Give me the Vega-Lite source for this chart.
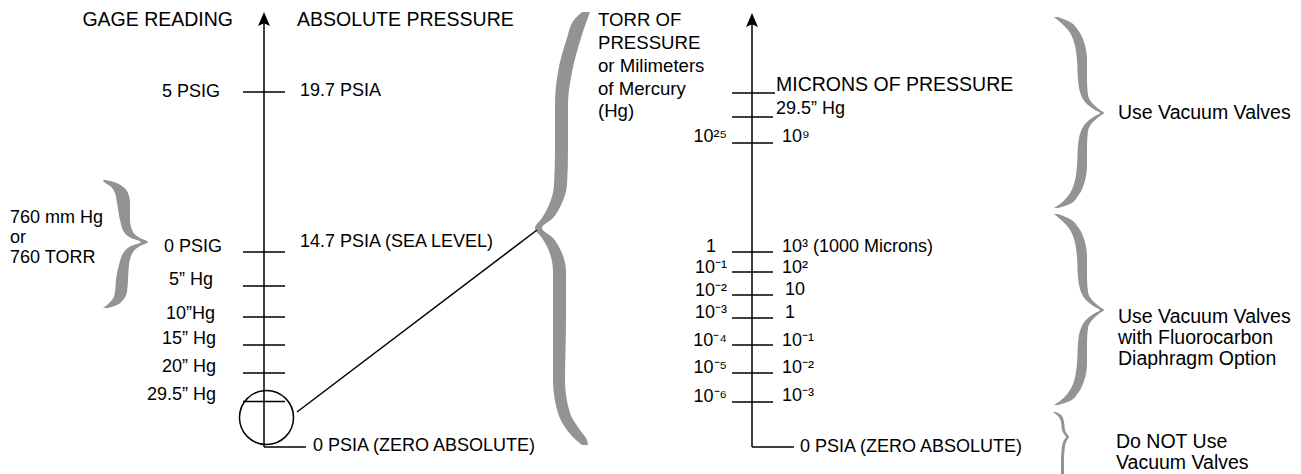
{
  "$schema": "https://vega.github.io/schema/vega-lite/v6.json",
  "width": 1301,
  "height": 474,
  "autosize": {"type": "fit", "contains": "padding"},
  "padding": 0,
  "background": "white",
  "config": {"view": {"stroke": null}},
  "datasets": {
    "rules": [
      {"x": 264, "y": 22, "x2": 264, "y2": 447},
      {"x": 243, "y": 92, "x2": 285, "y2": 92},
      {"x": 243, "y": 252, "x2": 285, "y2": 252},
      {"x": 243, "y": 286, "x2": 285, "y2": 286},
      {"x": 243, "y": 317, "x2": 285, "y2": 317},
      {"x": 243, "y": 345, "x2": 285, "y2": 345},
      {"x": 243, "y": 373, "x2": 285, "y2": 373},
      {"x": 243, "y": 401.5, "x2": 285, "y2": 401.5},
      {"x": 264, "y": 447, "x2": 306, "y2": 447},
      {"x": 297, "y": 412, "x2": 537, "y2": 230},
      {"x": 752, "y": 22, "x2": 752, "y2": 447},
      {"x": 732, "y": 93, "x2": 775, "y2": 93},
      {"x": 732, "y": 117, "x2": 773, "y2": 117},
      {"x": 732, "y": 143, "x2": 773, "y2": 143},
      {"x": 732, "y": 252, "x2": 773, "y2": 252},
      {"x": 732, "y": 272, "x2": 773, "y2": 272},
      {"x": 732, "y": 295, "x2": 773, "y2": 295},
      {"x": 732, "y": 318, "x2": 773, "y2": 318},
      {"x": 732, "y": 345, "x2": 773, "y2": 345},
      {"x": 732, "y": 373, "x2": 773, "y2": 373},
      {"x": 732, "y": 402, "x2": 773, "y2": 402},
      {"x": 752, "y": 447, "x2": 794, "y2": 447}
    ],
    "arrows": [
      {"x": 264, "y": 19},
      {"x": 752, "y": 20}
    ],
    "circles": [
      {"x": 266.5, "y": 417.5}
    ],
    "braces": [
      {"b": "left", "y": 180, "xl": 103, "xr": 106},
      {"b": "left", "y": 182, "xl": 104, "xr": 114},
      {"b": "left", "y": 186, "xl": 110, "xr": 122},
      {"b": "left", "y": 193, "xl": 115, "xr": 128},
      {"b": "left", "y": 203, "xl": 117, "xr": 130},
      {"b": "left", "y": 220, "xl": 120, "xr": 130},
      {"b": "left", "y": 232, "xl": 124, "xr": 133},
      {"b": "left", "y": 238, "xl": 131, "xr": 140},
      {"b": "left", "y": 242, "xl": 141, "xr": 148},
      {"b": "left", "y": 246, "xl": 131, "xr": 140},
      {"b": "left", "y": 252, "xl": 124, "xr": 133},
      {"b": "left", "y": 265, "xl": 119, "xr": 129},
      {"b": "left", "y": 280, "xl": 116, "xr": 128},
      {"b": "left", "y": 292, "xl": 115, "xr": 127},
      {"b": "left", "y": 300, "xl": 112, "xr": 123},
      {"b": "left", "y": 305, "xl": 107, "xr": 117},
      {"b": "left", "y": 308, "xl": 103, "xr": 108},

      {"b": "big", "y": 12, "xl": 582, "xr": 590},
      {"b": "big", "y": 20, "xl": 574, "xr": 587},
      {"b": "big", "y": 38, "xl": 567, "xr": 581},
      {"b": "big", "y": 72, "xl": 558, "xr": 572},
      {"b": "big", "y": 105, "xl": 555, "xr": 568},
      {"b": "big", "y": 150, "xl": 555, "xr": 568},
      {"b": "big", "y": 185, "xl": 554, "xr": 567},
      {"b": "big", "y": 205, "xl": 549, "xr": 561},
      {"b": "big", "y": 218, "xl": 542, "xr": 553},
      {"b": "big", "y": 228, "xl": 535, "xr": 542},
      {"b": "big", "y": 238, "xl": 542, "xr": 553},
      {"b": "big", "y": 251, "xl": 549, "xr": 561},
      {"b": "big", "y": 272, "xl": 553, "xr": 566},
      {"b": "big", "y": 320, "xl": 553, "xr": 566},
      {"b": "big", "y": 380, "xl": 553, "xr": 565},
      {"b": "big", "y": 413, "xl": 558, "xr": 570},
      {"b": "big", "y": 430, "xl": 567, "xr": 580},
      {"b": "big", "y": 440, "xl": 576, "xr": 587},
      {"b": "big", "y": 445, "xl": 582, "xr": 588},

      {"b": "top", "y": 17, "xl": 1054, "xr": 1058},
      {"b": "top", "y": 22, "xl": 1060, "xr": 1070},
      {"b": "top", "y": 30, "xl": 1068, "xr": 1078},
      {"b": "top", "y": 42, "xl": 1074, "xr": 1084},
      {"b": "top", "y": 60, "xl": 1077, "xr": 1087},
      {"b": "top", "y": 80, "xl": 1078, "xr": 1087},
      {"b": "top", "y": 95, "xl": 1081, "xr": 1088},
      {"b": "top", "y": 105, "xl": 1088, "xr": 1094},
      {"b": "top", "y": 110, "xl": 1095, "xr": 1100},
      {"b": "top", "y": 113, "xl": 1100, "xr": 1104},
      {"b": "top", "y": 116, "xl": 1095, "xr": 1100},
      {"b": "top", "y": 121, "xl": 1088, "xr": 1094},
      {"b": "top", "y": 131, "xl": 1081, "xr": 1088},
      {"b": "top", "y": 146, "xl": 1078, "xr": 1087},
      {"b": "top", "y": 166, "xl": 1077, "xr": 1087},
      {"b": "top", "y": 184, "xl": 1074, "xr": 1084},
      {"b": "top", "y": 196, "xl": 1068, "xr": 1078},
      {"b": "top", "y": 204, "xl": 1060, "xr": 1070},
      {"b": "top", "y": 208, "xl": 1054, "xr": 1058},

      {"b": "mid", "y": 214, "xl": 1054, "xr": 1058},
      {"b": "mid", "y": 219, "xl": 1060, "xr": 1070},
      {"b": "mid", "y": 227, "xl": 1068, "xr": 1078},
      {"b": "mid", "y": 239, "xl": 1074, "xr": 1084},
      {"b": "mid", "y": 257, "xl": 1077, "xr": 1087},
      {"b": "mid", "y": 277, "xl": 1078, "xr": 1087},
      {"b": "mid", "y": 292, "xl": 1081, "xr": 1088},
      {"b": "mid", "y": 302, "xl": 1088, "xr": 1094},
      {"b": "mid", "y": 307, "xl": 1095, "xr": 1100},
      {"b": "mid", "y": 310, "xl": 1100, "xr": 1104},
      {"b": "mid", "y": 313, "xl": 1095, "xr": 1100},
      {"b": "mid", "y": 318, "xl": 1088, "xr": 1094},
      {"b": "mid", "y": 328, "xl": 1081, "xr": 1088},
      {"b": "mid", "y": 343, "xl": 1078, "xr": 1087},
      {"b": "mid", "y": 363, "xl": 1077, "xr": 1087},
      {"b": "mid", "y": 381, "xl": 1074, "xr": 1084},
      {"b": "mid", "y": 393, "xl": 1068, "xr": 1078},
      {"b": "mid", "y": 401, "xl": 1060, "xr": 1070},
      {"b": "mid", "y": 405, "xl": 1054, "xr": 1058},

      {"b": "small", "y": 412, "xl": 1053, "xr": 1056},
      {"b": "small", "y": 416, "xl": 1058, "xr": 1062},
      {"b": "small", "y": 422, "xl": 1061, "xr": 1064},
      {"b": "small", "y": 430, "xl": 1062, "xr": 1065},
      {"b": "small", "y": 434, "xl": 1064, "xr": 1067},
      {"b": "small", "y": 437, "xl": 1066, "xr": 1069},
      {"b": "small", "y": 440, "xl": 1064, "xr": 1067},
      {"b": "small", "y": 446, "xl": 1062, "xr": 1065},
      {"b": "small", "y": 460, "xl": 1061, "xr": 1064},
      {"b": "small", "y": 474, "xl": 1061, "xr": 1064}
    ],
    "textLeft": [
      {"t": "19.7 PSIA", "x": 300, "y": 91},
      {"t": "14.7 PSIA (SEA LEVEL)", "x": 300, "y": 242},
      {"t": "0 PSIA (ZERO ABSOLUTE)", "x": 313, "y": 446},
      {"t": "760 mm Hg", "x": 10, "y": 218},
      {"t": "or", "x": 10, "y": 238},
      {"t": "760 TORR", "x": 10, "y": 258},
      {"t": "29.5” Hg", "x": 776, "y": 109},
      {"t": "10⁹", "x": 782, "y": 137},
      {"t": "10³ (1000 Microns)", "x": 782, "y": 247},
      {"t": "10²", "x": 782, "y": 268},
      {"t": "10", "x": 785, "y": 290},
      {"t": "1", "x": 785, "y": 313},
      {"t": "10⁻¹", "x": 782, "y": 341},
      {"t": "10⁻²", "x": 782, "y": 368},
      {"t": "10⁻³", "x": 782, "y": 396},
      {"t": "0 PSIA (ZERO ABSOLUTE)", "x": 800, "y": 447}
    ],
    "textLeftMid": [
      {"t": "TORR OF", "x": 598, "y": 20},
      {"t": "PRESSURE", "x": 598, "y": 43},
      {"t": "or Milimeters", "x": 598, "y": 66},
      {"t": "of Mercury", "x": 598, "y": 89},
      {"t": "(Hg)", "x": 598, "y": 111}
    ],
    "textLeftLarge": [
      {"t": "ABSOLUTE PRESSURE", "x": 297, "y": 20},
      {"t": "MICRONS OF PRESSURE", "x": 776, "y": 85},
      {"t": "Use Vacuum Valves", "x": 1118, "y": 113},
      {"t": "Use Vacuum Valves", "x": 1118, "y": 317},
      {"t": "with Fluorocarbon", "x": 1118, "y": 338},
      {"t": "Diaphragm Option", "x": 1118, "y": 359},
      {"t": "Do NOT Use", "x": 1116, "y": 442},
      {"t": "Vacuum Valves", "x": 1116, "y": 463}
    ],
    "textRight": [
      {"t": "5 PSIG", "x": 220, "y": 92},
      {"t": "0 PSIG", "x": 222, "y": 247},
      {"t": "5” Hg", "x": 213, "y": 280},
      {"t": "10”Hg", "x": 215, "y": 314},
      {"t": "15”  Hg", "x": 216, "y": 339},
      {"t": "20” Hg", "x": 216, "y": 367},
      {"t": "29.5” Hg", "x": 216, "y": 395},
      {"t": "10²⁵", "x": 727, "y": 137},
      {"t": "1", "x": 716, "y": 247},
      {"t": "10⁻¹", "x": 727, "y": 268},
      {"t": "10⁻²", "x": 727, "y": 291},
      {"t": "10⁻³", "x": 727, "y": 313},
      {"t": "10⁻⁴", "x": 727, "y": 341},
      {"t": "10⁻⁵", "x": 727, "y": 368},
      {"t": "10⁻⁶", "x": 727, "y": 397}
    ],
    "textRightLarge": [
      {"t": "GAGE READING", "x": 233, "y": 20}
    ]
  },
  "encoding": {
    "x": {"field": "x", "type": "quantitative", "scale": {"domain": [0, 1301], "nice": false, "zero": false}, "axis": null},
    "y": {"field": "y", "type": "quantitative", "scale": {"domain": [0, 474], "nice": false, "zero": false, "reverse": true}, "axis": null}
  },
  "layer": [
    {
      "data": {"name": "braces"},
      "mark": {"type": "area", "orient": "horizontal", "interpolate": "monotone", "color": "#939393"},
      "encoding": {
        "x": {"field": "xl", "type": "quantitative", "scale": {"domain": [0, 1301], "nice": false, "zero": false}, "axis": null},
        "x2": {"field": "xr"},
        "y": {"field": "y", "type": "quantitative", "scale": {"domain": [0, 474], "nice": false, "zero": false, "reverse": true}, "axis": null},
        "detail": {"field": "b", "type": "nominal"}
      }
    },
    {
      "data": {"name": "rules"},
      "mark": {"type": "rule", "color": "black", "strokeWidth": 1.5},
      "encoding": {
        "x2": {"field": "x2"},
        "y2": {"field": "y2"}
      }
    },
    {
      "data": {"name": "arrows"},
      "mark": {"type": "point", "shape": "M0,-1L0.85,1L0,0.6L-0.85,1Z", "filled": true, "color": "black", "opacity": 1, "size": 196},
      "encoding": {}
    },
    {
      "data": {"name": "circles"},
      "mark": {"type": "point", "shape": "circle", "filled": false, "stroke": "black", "strokeWidth": 1.5, "opacity": 1, "size": 2920},
      "encoding": {}
    },
    {
      "data": {"name": "textLeft"},
      "mark": {"type": "text", "align": "left", "baseline": "middle", "font": "Liberation Sans", "fontSize": 18, "color": "black"},
      "encoding": {"text": {"field": "t"}}
    },
    {
      "data": {"name": "textLeftMid"},
      "mark": {"type": "text", "align": "left", "baseline": "middle", "font": "Liberation Sans", "fontSize": 18.6, "color": "black"},
      "encoding": {"text": {"field": "t"}}
    },
    {
      "data": {"name": "textLeftLarge"},
      "mark": {"type": "text", "align": "left", "baseline": "middle", "font": "Liberation Sans", "fontSize": 19.5, "color": "black"},
      "encoding": {"text": {"field": "t"}}
    },
    {
      "data": {"name": "textRight"},
      "mark": {"type": "text", "align": "right", "baseline": "middle", "font": "Liberation Sans", "fontSize": 18, "color": "black"},
      "encoding": {"text": {"field": "t"}}
    },
    {
      "data": {"name": "textRightLarge"},
      "mark": {"type": "text", "align": "right", "baseline": "middle", "font": "Liberation Sans", "fontSize": 19.5, "color": "black"},
      "encoding": {"text": {"field": "t"}}
    }
  ]
}
